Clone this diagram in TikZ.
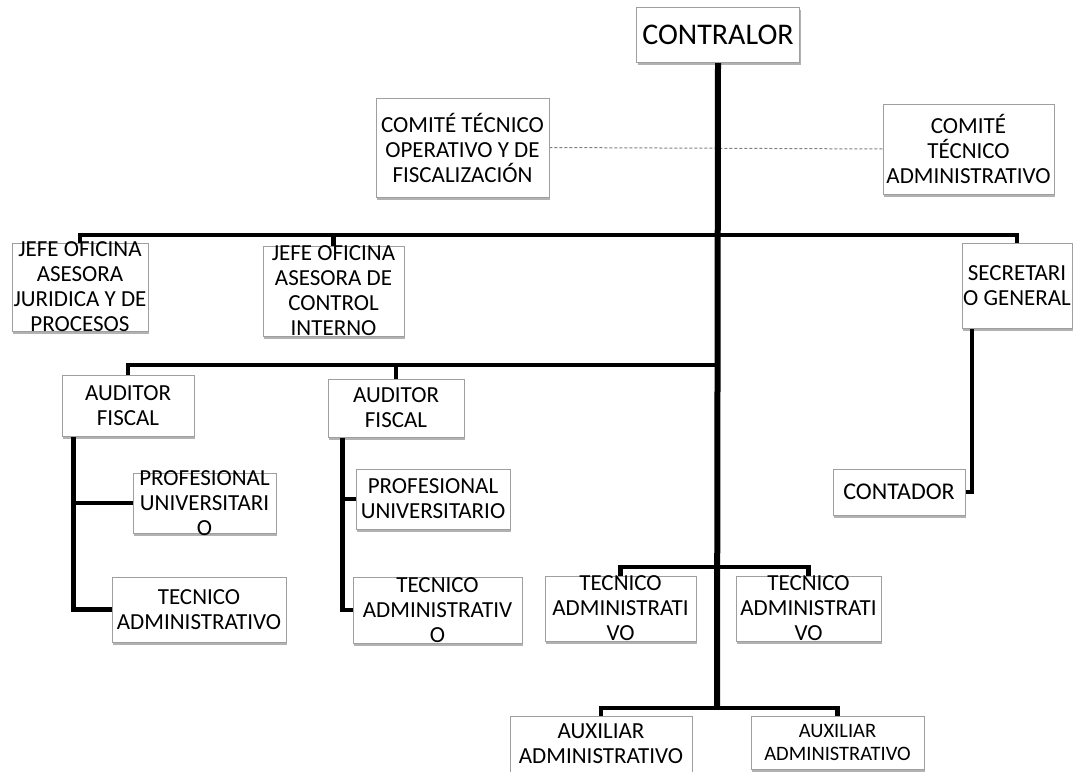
\documentclass[tikz,border=0pt]{standalone}
\usepackage{fontspec}
\setmainfont{Carlito}
\usetikzlibrary{shadows,backgrounds}
\begin{document}
\begin{tikzpicture}[x=1pt,y=-1pt]
	\tikzset{box/.style={draw=gray!75, line width=0.8pt, fill=white, inner sep=0pt,
		drop shadow={shadow xshift=1.2pt, shadow yshift=-2.5pt, opacity=0.3, fill=black}}}
	\tikzset{txt/.style={align=center, inner sep=0pt, font=\fontsize{23}{25}\selectfont}}
	\tikzset{link/.style={line width=4.5pt}}
	\tikzset{trunk/.style={line width=6pt}}
	\useasboundingbox (0,0) rectangle (1073,771);

	\node[box, minimum width=163pt, minimum height=55pt] (contralor) at (718,34.5)
		[label={[txt, font=\fontsize{30}{32}\selectfont]center:CONTRALOR}] {};
	\node[box, minimum width=173pt, minimum height=99pt] (comop) at (462.5,147.5)
		[label={[txt]center:{COMITÉ TÉCNICO\\OPERATIVO Y DE\\FISCALIZACIÓN}}] {};
	\node[box, minimum width=171pt, minimum height=90pt] (comad) at (968.5,149)
		[label={[txt]center:{COMITÉ\\TÉCNICO\\ADMINISTRATIVO}}] {};
	\node[box, minimum width=136pt, minimum height=88pt] (jefejur) at (80,287)
		[label={[txt]center:{JEFE OFICINA\\ASESORA\\JURIDICA Y DE\\PROCESOS}}] {};
	\node[box, minimum width=141pt, minimum height=90pt] (jefeci) at (333.5,291)
		[label={[txt]center:{JEFE OFICINA\\ASESORA DE\\CONTROL\\INTERNO}}] {};
	\node[box, minimum width=110pt, minimum height=85pt] (secre) at (1017,285.5)
		[label={[txt]center:{SECRETARI\\O GENERAL}}] {};
	\node[box, minimum width=132pt, minimum height=61pt] (auda) at (128,405.5)
		[label={[txt]center:{AUDITOR\\FISCAL}}] {};
	\node[box, minimum width=136pt, minimum height=58pt] (audb) at (396,408)
		[label={[txt]center:{AUDITOR\\FISCAL}}] {};
	\node[box, minimum width=143pt, minimum height=60pt] (profa) at (204.5,503)
		[label={[txt]center:{PROFESIONAL\\UNIVERSITARI\\O}}] {};
	\node[box, minimum width=174pt, minimum height=65pt] (teca) at (199,609.5)
		[label={[txt]center:{TECNICO\\ADMINISTRATIVO}}] {};
	\node[box, minimum width=154pt, minimum height=60pt] (profb) at (433,499)
		[label={[txt]center:{PROFESIONAL\\UNIVERSITARIO}}] {};
	\node[box, minimum width=169pt, minimum height=66pt] (tecb) at (437.5,610)
		[label={[txt]center:{TECNICO\\ADMINISTRATIV\\O}}] {};
	\node[box, minimum width=132pt, minimum height=46pt] (contador) at (899,492)
		[label={[txt, font=\fontsize{24}{26}\selectfont]center:CONTADOR}] {};
	\node[box, minimum width=151pt, minimum height=65pt] (tecc) at (620.5,608.5)
		[label={[txt]center:{TECNICO\\ADMINISTRATI\\VO}}] {};
	\node[box, minimum width=145pt, minimum height=65pt] (tecd) at (808.5,608.5)
		[label={[txt]center:{TECNICO\\ADMINISTRATI\\VO}}] {};
	\node[box, minimum width=182pt, minimum height=56pt] (auxa) at (601,744)
		[label={[txt]center:{AUXILIAR\\ADMINISTRATIVO}}] {};
	\node[box, minimum width=173pt, minimum height=53pt] (auxb) at (837.5,742.5)
		[label={[txt, font=\fontsize{20.5}{23}\selectfont]center:{AUXILIAR\\ADMINISTRATIVO}}] {};

	\coordinate (bara) at (717,235);
	\coordinate (barb) at (717,365);
	\coordinate (barc) at (717,567);
	\coordinate (bard) at (717,708);
	\coordinate (stema) at ([xshift=12pt]auda.south west);
	\coordinate (stemb) at ([xshift=15pt]audb.south west);
	\coordinate (stemc) at ([xshift=-45pt]secre.south);

	\begin{scope}[on background layer]
		\draw[gray, line width=1pt, densely dashed] (comop.east) -- (comad.west);
		\draw[trunk] (contralor.south) -- (bard);
		\draw[link] (jefejur.north) -- (jefejur.north |- bara) -- (secre.north |- bara) -- (secre.north);
		\draw[link] (jefeci.north) -- (jefeci.north |- bara);
		\draw[link] (stemc) |- (contador.east);
		\draw[link] (auda.north) |- (barb);
		\draw[link] (audb.north) -- (audb.north |- barb);
		\draw[link] (stema) |- (teca.west);
		\draw[link] (profa.west) -- (profa.west -| stema);
		\draw[link] (stemb) |- (tecb.west);
		\draw[link] (profb.west) -- (profb.west -| stemb);
		\draw[link] (tecc.north) |- (tecd.north |- barc) -- (tecd.north);
		\draw[link] (auxa.north) |- (auxb.north |- bard) -- (auxb.north);
	\end{scope}
\end{tikzpicture}
\end{document}
